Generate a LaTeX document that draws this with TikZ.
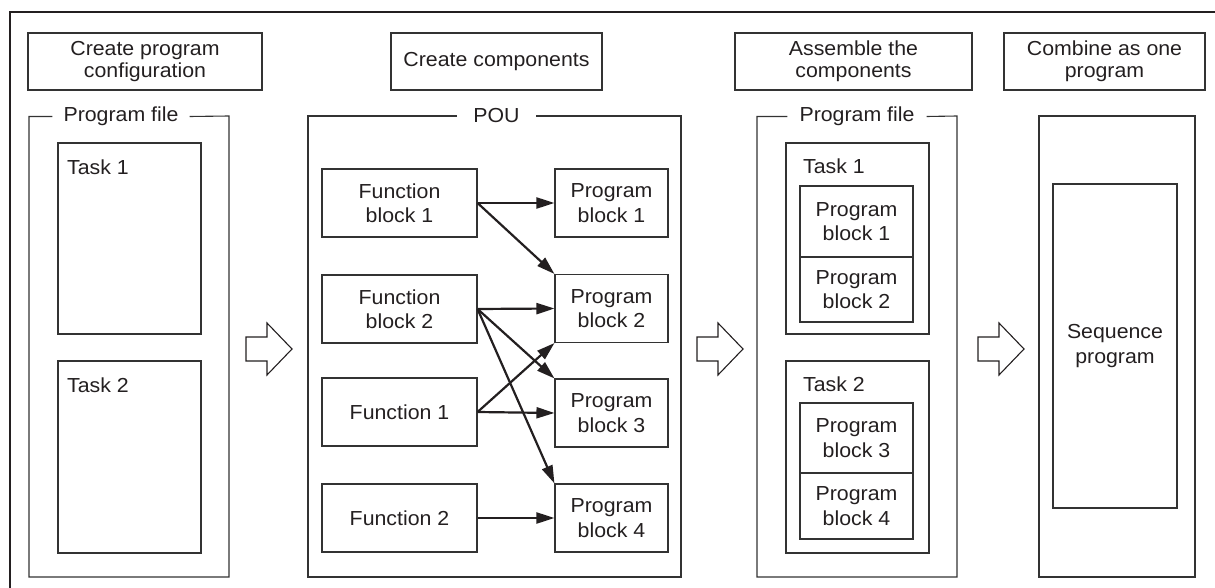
\documentclass[tikz,border=0pt]{standalone}
\usepackage{fontspec}
\setmainfont{Liberation Sans}[FakeStretch=1.05]
\usetikzlibrary{arrows.meta}
\definecolor{ink}{HTML}{231F20}
\definecolor{ln}{HTML}{333333}
\begin{document}
\begin{tikzpicture}[x=1pt,y=-1pt,
 every node/.style={text=ink, font=\fontsize{20.3}{23}\selectfont, align=center},
 box/.style={draw=ln, line width=1.1pt, inner sep=0pt},
 hdr/.style={box, minimum height=57pt, font=\fontsize{20.3}{22.5}\selectfont},
 blk/.style={box, font=\fontsize{20.3}{24.5}\selectfont},
 grp/.style={draw=ln, line width=1.1pt},
 glabel/.style={inner xsep=11pt, inner ysep=0pt},
 tlabel/.style={anchor=base west, inner sep=0pt},
 conn/.style={draw=ink, line width=2.2pt, -{Triangle[length=18pt,width=11pt]}},
 hollow/.style={draw=ink, line width=1.1pt, fill=white, line join=miter},
 harrow/.pic={\draw[hollow] (0,-12) -- (21,-12) -- (21,-26) -- (46,0) -- (21,26) -- (21,12) -- (0,12) -- cycle;}
]
\useasboundingbox (0,0) rectangle (1215,588);
% outer frame
\draw[ink, line width=2.8pt] (10,588) -- (10,12) -- (1215,12);

% headers
\node[hdr, minimum width=234pt] (h1) at (145,61.5) {Create program\\configuration};
\node[hdr, minimum width=211pt] (h2) at (496.5,61.5) {Create components};
\node[hdr, minimum width=237pt] (h3) at (853.5,61.5) {Assemble the\\components};
\node[hdr, minimum width=201pt] (h4) at (1104.5,61.5) {Combine as one\\program};

% group 1: program file
\node[glabel] (l1) at (121,116.5) {Program file};
\draw[grp] (l1.west) -| (29,577) -| (229,116) -- (l1.east);
\node[box, minimum width=143pt, minimum height=191pt] (t1) at (129.5,238.5) {};
\node[tlabel] (t1l) at (67,175) {Task 1};
\node[box, minimum width=143pt, minimum height=192pt] (t2) at (129.5,457) {};
\node[tlabel] (t2l) at (67,392.5) {Task 2};

% group 2: POU
\node[glabel, inner xsep=16pt] (pou) at (496.5,116) {POU};
\draw[grp] (pou.west) -| (308,577) -| (681,116) -- (pou.east);
\node[blk, minimum width=155pt, minimum height=68pt] (fb1) at (399.5,203) {Function\\block 1};
\node[blk, minimum width=155pt, minimum height=68pt] (fb2) at (399.5,309) {Function\\block 2};
\node[blk, minimum width=155pt, minimum height=68pt] (f1) at (399.5,412) {Function 1};
\node[blk, minimum width=155pt, minimum height=68pt] (f2) at (399.5,518) {Function 2};
\node[blk, minimum width=113pt, minimum height=68pt] (p1) at (611.5,203) {Program\\block 1};
\node[blk, minimum width=113pt, minimum height=68pt] (p2) at (611.5,308.5) {Program\\block 2};
\node[blk, minimum width=113pt, minimum height=68pt] (p3) at (611.5,413) {Program\\block 3};
\node[blk, minimum width=113pt, minimum height=68pt] (p4) at (611.5,518) {Program\\block 4};
\draw[conn] (fb1.east) -- (p1.west);
\draw[conn] (fb1.east) -- (p2.north west);
\draw[conn] (fb2.east) -- (p2.west);
\draw[conn] (fb2.east) -- (p3.north west);
\draw[conn] (fb2.east) -- (p4.north west);
\draw[conn] (f1.east) -- (p3.west);
\draw[conn] (f1.east) -- (p2.south west);
\draw[conn] (f2.east) -- (p4.west);

% group 3: assembled program file
\node[glabel, inner xsep=12pt] (l3) at (857,116.5) {Program file};
\draw[grp] (l3.west) -| (757,577) -| (957,116) -- (l3.east);
\node[box, minimum width=143pt, minimum height=191pt] (at1) at (857.5,238.5) {};
\node[tlabel] (at1l) at (803,173.5) {Task 1};
\node[blk, minimum width=113pt, minimum height=71pt] (ap1) at (856.5,221.5) {Program\\block 1};
\node[blk, minimum width=113pt, minimum height=65pt] (ap2) at (856.5,289.5) {Program\\block 2};
\node[box, minimum width=143pt, minimum height=192pt] (at2) at (857.5,457) {};
\node[tlabel] (at2l) at (803,391) {Task 2};
\node[blk, minimum width=113pt, minimum height=70pt] (ap3) at (856.5,438) {Program\\block 3};
\node[blk, minimum width=113pt, minimum height=66pt] (ap4) at (856.5,506) {Program\\block 4};

% group 4: combined
\node[box, minimum width=156pt, minimum height=461pt] (cf) at (1117,346.5) {};
\node[blk, minimum width=124pt, minimum height=324pt] (seq) at (1115,346) {Sequence\\program};

% hollow arrows
\pic at (246,349) {harrow};
\pic at (697,349) {harrow};
\pic at (978,349) {harrow};
\end{tikzpicture}
\end{document}
